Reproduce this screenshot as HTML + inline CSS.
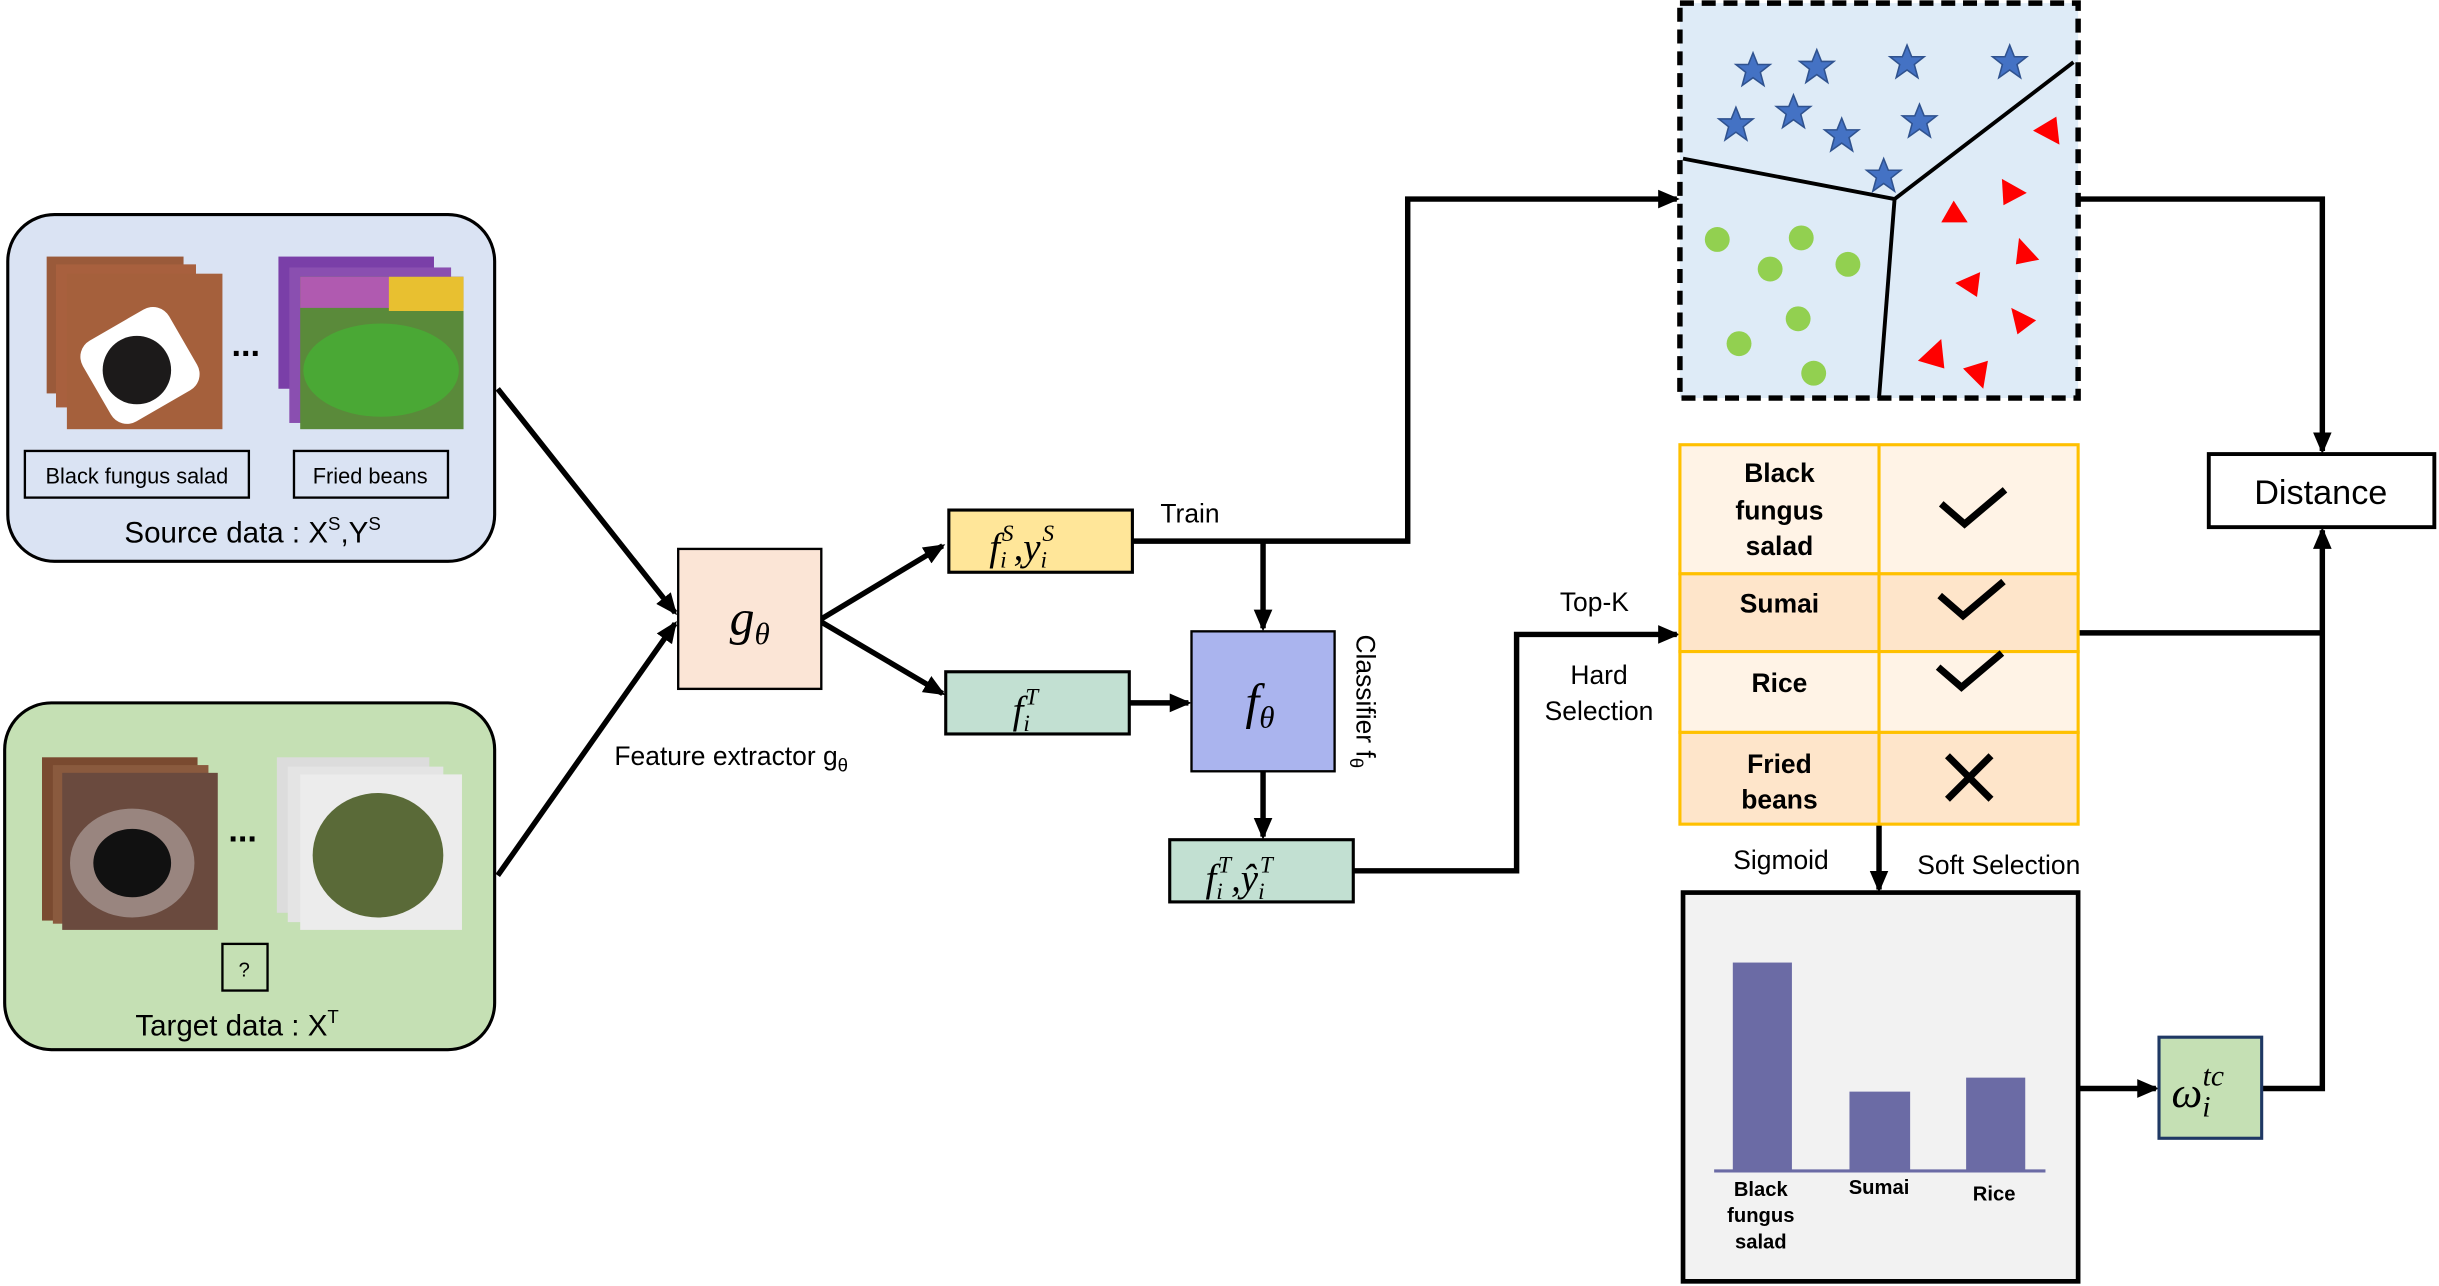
<!DOCTYPE html>
<html><head><meta charset="utf-8"><style>html,body{margin:0;padding:0;background:#fff}svg{display:block}text{font-family:"Liberation Sans",sans-serif}text.m{font-family:"Liberation Serif",serif;font-style:italic}</style></head><body>
<svg width="2439" height="1286" viewBox="0 0 1568 827" preserveAspectRatio="none" xmlns="http://www.w3.org/2000/svg">
<defs>
<marker id="a2" markerWidth="14" markerHeight="14" refX="12" refY="7" orient="auto" markerUnits="userSpaceOnUse"><path d="M0,1 L14,7 L0,13 z" fill="#000"/></marker>
<g id="star"><polygon points="0,-11 3,-3.5 11,-3.5 4.7,1.5 7,10 0,5 -7,10 -4.7,1.5 -11,-3.5 -3,-3.5" fill="#4472c4" stroke="#2f528f" stroke-width="1"/></g>
</defs>
<rect width="1568" height="827" fill="#fff"/>
<!-- Source -->
<rect x="5" y="138" width="313" height="223" rx="30" fill="#dae3f3" stroke="#000" stroke-width="2"/>
<rect x="30" y="165" width="88" height="88" fill="#9a5a3a"/><rect x="36" y="170" width="90" height="92" fill="#a8603e"/>
<rect x="43" y="176" width="100" height="100" fill="#a5603c"/>
<rect x="58" y="205" width="64" height="60" rx="12" fill="#fff" transform="rotate(-30 90 235)"/>
<ellipse cx="88" cy="238" rx="22" ry="22" fill="#1c1a1a"/>
<text x="158" y="229" font-size="22" font-weight="bold" text-anchor="middle">...</text>
<rect x="179" y="165" width="100" height="85" fill="#7a3fa8"/>
<rect x="186" y="172" width="104" height="100" fill="#8a4fb0"/>
<rect x="193" y="178" width="105" height="98" fill="#5a8a3a"/>
<rect x="193" y="178" width="105" height="20" fill="#b05ab0"/><rect x="250" y="178" width="48" height="22" fill="#e8c030"/>
<ellipse cx="245" cy="238" rx="50" ry="30" fill="#4aa835"/>
<rect x="16" y="290" width="144" height="30" fill="none" stroke="#000" stroke-width="1.5"/>
<text x="88" y="311" font-size="14" text-anchor="middle">Black fungus salad</text>
<rect x="189" y="290" width="99" height="30" fill="none" stroke="#000" stroke-width="1.5"/>
<text x="238" y="311" font-size="14" text-anchor="middle">Fried beans</text>
<text x="80" y="349" font-size="19">Source data : X<tspan font-size="12" dy="-8">S</tspan><tspan dy="8">,Y</tspan><tspan font-size="12" dy="-8">S</tspan></text>
<!-- Target -->
<rect x="3" y="452" width="315" height="223" rx="30" fill="#c5e0b4" stroke="#000" stroke-width="2"/>
<rect x="27" y="487" width="100" height="105" fill="#7a4a30"/>
<rect x="34" y="492" width="100" height="102" fill="#8a5a3e"/>
<rect x="40" y="497" width="100" height="101" fill="#6a4a3e"/>
<ellipse cx="85" cy="555" rx="40" ry="35" fill="#c8c0c0" opacity="0.5"/>
<ellipse cx="85" cy="555" rx="25" ry="22" fill="#111"/>
<text x="156" y="541" font-size="22" font-weight="bold" text-anchor="middle">...</text>
<rect x="178" y="487" width="98" height="100" fill="#dcdcdc"/>
<rect x="185" y="493" width="100" height="100" fill="#e4e4e4"/>
<rect x="193" y="498" width="104" height="100" fill="#ececec"/>
<ellipse cx="243" cy="550" rx="42" ry="40" fill="#5a6a38"/>
<rect x="143" y="607" width="29" height="30" fill="none" stroke="#000" stroke-width="1.5"/>
<text x="157" y="628" font-size="13" text-anchor="middle">?</text>
<text x="87" y="666" font-size="19">Target data : X<tspan font-size="12" dy="-8">T</tspan></text>
<g stroke="#000" stroke-width="3.5" fill="none">
<line x1="320" y1="250" x2="434" y2="394" marker-end="url(#a2)"/>
<line x1="320" y1="563" x2="434" y2="401" marker-end="url(#a2)"/>
<line x1="528" y1="398" x2="606" y2="351" marker-end="url(#a2)"/>
<line x1="528" y1="400" x2="606" y2="446" marker-end="url(#a2)"/>
<polyline points="728,348 905,348 905,128 1078,128" marker-end="url(#a2)"/>
<line x1="812" y1="348" x2="812" y2="404" marker-end="url(#a2)"/>
<line x1="726" y1="452" x2="764" y2="452" marker-end="url(#a2)"/>
<line x1="812" y1="496" x2="812" y2="538" marker-end="url(#a2)"/>
<polyline points="870,560 975,560 975,408 1078,408" marker-end="url(#a2)"/>
<polyline points="1336,128 1493,128 1493,290" marker-end="url(#a2)"/>
<line x1="1336" y1="407" x2="1493" y2="407"/>
<polyline points="1454,700 1493,700 1493,341" marker-end="url(#a2)"/>
<line x1="1208" y1="530" x2="1208" y2="572" marker-end="url(#a2)"/>
<line x1="1336" y1="700" x2="1386" y2="700" marker-end="url(#a2)"/>
</g>
<rect x="436" y="353" width="92" height="90" fill="#fbe5d6" stroke="#000" stroke-width="1.5"/>
<text class="m" x="482" y="408" font-size="32" text-anchor="middle">g<tspan font-size="20" dy="6">θ</tspan></text>
<text x="395" y="492" font-size="17">Feature extractor g<tspan font-size="12" dy="4">θ</tspan></text>
<rect x="610" y="328" width="118" height="40" fill="#ffe699" stroke="#000" stroke-width="2"/>
<text class="m" x="636" y="360" font-size="25">f<tspan font-size="15" dy="5">i</tspan><tspan font-size="15" dx="-3" dy="-17">S</tspan><tspan dy="12">,y</tspan><tspan font-size="15" dy="5">i</tspan><tspan font-size="15" dx="-3" dy="-17">S</tspan></text>
<text x="746" y="336" font-size="17">Train</text>
<rect x="608" y="432" width="118" height="40" fill="#c2e0d2" stroke="#000" stroke-width="2"/>
<text class="m" x="651" y="465" font-size="25">f<tspan font-size="15" dy="5">i</tspan><tspan font-size="15" dx="-3" dy="-17">T</tspan></text>
<rect x="766" y="406" width="92" height="90" fill="#aab4ee" stroke="#000" stroke-width="1.5"/>
<text class="m" x="810" y="462" font-size="32" text-anchor="middle">f<tspan font-size="20" dy="6">θ</tspan></text>
<text x="0" y="0" font-size="17" transform="translate(872,408) rotate(90)">Classifier f<tspan font-size="12" dy="4">θ</tspan></text>
<rect x="752" y="540" width="118" height="40" fill="#c2e0d2" stroke="#000" stroke-width="2"/>
<text class="m" x="775" y="573" font-size="25">f<tspan font-size="15" dy="5">i</tspan><tspan font-size="15" dx="-3" dy="-17">T</tspan><tspan dy="12">,ŷ</tspan><tspan font-size="15" dy="5">i</tspan><tspan font-size="15" dx="-3" dy="-17">T</tspan></text>
<text x="1025" y="393" font-size="17" text-anchor="middle">Top-K</text>
<text x="1028" y="440" font-size="17" text-anchor="middle">Hard</text>
<text x="1028" y="463" font-size="17" text-anchor="middle">Selection</text>
<rect x="1080" y="2" width="256" height="254" fill="#deebf7" stroke="#000" stroke-width="3.5" stroke-dasharray="9,5"/>
<g stroke="#000" stroke-width="2.5" fill="none"><polyline points="1082,102 1218,128 1333,40"/><line x1="1218" y1="128" x2="1208" y2="256"/></g>
<use href="#star" x="1127" y="45"/><use href="#star" x="1168" y="43"/><use href="#star" x="1226" y="40"/><use href="#star" x="1292" y="40"/><use href="#star" x="1116" y="80"/><use href="#star" x="1153" y="72"/><use href="#star" x="1184" y="87"/><use href="#star" x="1234" y="78"/><use href="#star" x="1211" y="113"/>
<g fill="#92d050"><circle cx="1104" cy="154" r="8"/><circle cx="1158" cy="153" r="8"/><circle cx="1138" cy="173" r="8"/><circle cx="1188" cy="170" r="8"/><circle cx="1156" cy="205" r="8"/><circle cx="1118" cy="221" r="8"/><circle cx="1166" cy="240" r="8"/></g>
<g fill="#ff0000">
<polygon points="1307,84 1322,75 1324,93"/><polygon points="1287,115 1303,124 1288,132"/><polygon points="1248,143 1256,129 1265,143"/><polygon points="1298,153 1311,167 1296,170"/><polygon points="1257,182 1273,175 1271,191"/><polygon points="1293,198 1309,206 1297,215"/><polygon points="1233,232 1248,218 1250,237"/><polygon points="1262,237 1278,232 1275,250"/>
</g>
<g stroke="#ffc000" stroke-width="2">
<rect x="1080" y="286" width="256" height="83" fill="#fff3e6"/>
<rect x="1080" y="369" width="256" height="50" fill="#fee5ca"/>
<rect x="1080" y="419" width="256" height="52" fill="#fff3e6"/>
<rect x="1080" y="471" width="256" height="59" fill="#fee5ca"/>
<line x1="1208" y1="286" x2="1208" y2="530"/>
</g>
<g font-size="17" font-weight="bold" text-anchor="middle">
<text x="1144" y="310">Black</text><text x="1144" y="334">fungus</text><text x="1144" y="357">salad</text>
<text x="1144" y="394">Sumai</text><text x="1144" y="445">Rice</text>
<text x="1144" y="497">Fried</text><text x="1144" y="520">beans</text>
</g>
<g stroke="#000" stroke-width="4.5" fill="none">
<polyline points="1248,324 1263,337 1289,315"/><polyline points="1247,383 1262,396 1288,374"/><polyline points="1246,429 1261,442 1287,420"/>
<line x1="1252" y1="486" x2="1280" y2="514"/><line x1="1280" y1="486" x2="1252" y2="514"/>
</g>
<text x="1145" y="559" font-size="17" text-anchor="middle">Sigmoid</text>
<text x="1285" y="562" font-size="17" text-anchor="middle">Soft Selection</text>
<rect x="1082" y="574" width="254" height="250" fill="#f2f2f2" stroke="#000" stroke-width="3"/>
<g fill="#6b6ba5"><rect x="1114" y="619" width="38" height="134"/><rect x="1189" y="702" width="39" height="51"/><rect x="1264" y="693" width="38" height="60"/></g>
<line x1="1102" y1="753" x2="1315" y2="753" stroke="#6b6ba5" stroke-width="2"/>
<g font-size="13" font-weight="bold" text-anchor="middle">
<text x="1132" y="769">Black</text><text x="1132" y="786">fungus</text><text x="1132" y="803">salad</text>
<text x="1208" y="768">Sumai</text><text x="1282" y="772">Rice</text>
</g>
<rect x="1388" y="667" width="66" height="65" fill="#c5e0b4" stroke="#1f3864" stroke-width="2"/>
<text class="m" x="1396" y="712" font-size="28">ω<tspan font-size="19" dy="6">i</tspan><tspan font-size="19" dx="-5" dy="-20">tc</tspan></text>
<rect x="1420" y="292" width="145" height="47" fill="#fff" stroke="#000" stroke-width="2.5"/>
<text x="1492" y="324" font-size="22" text-anchor="middle">Distance</text>
</svg>
</body></html>
